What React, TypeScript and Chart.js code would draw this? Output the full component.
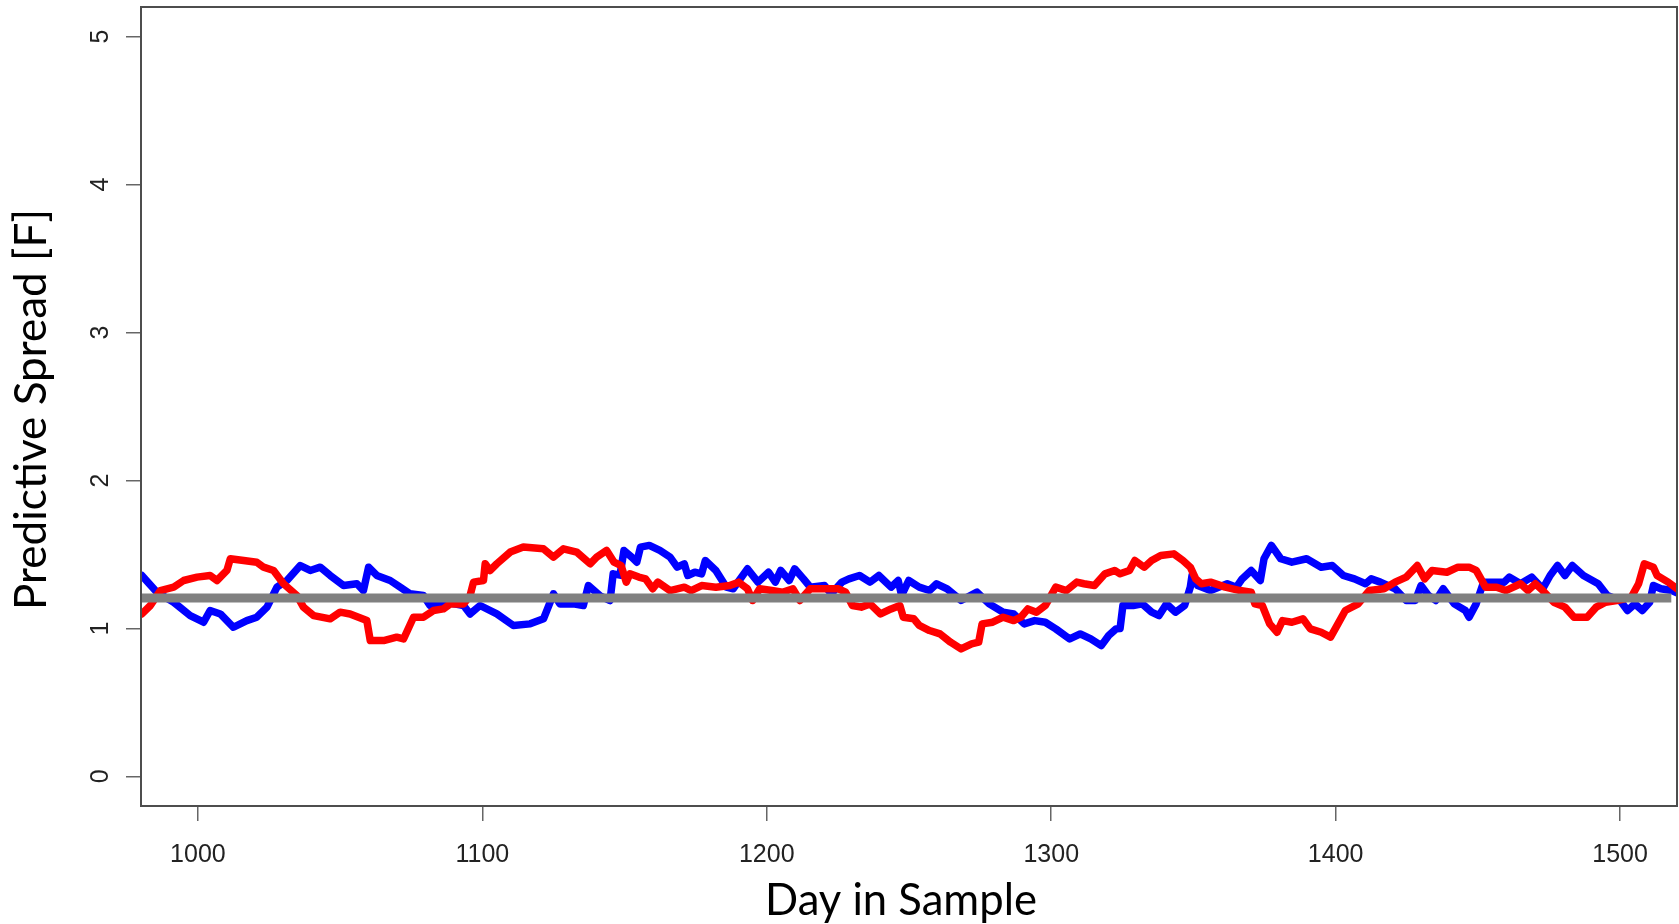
import React, { useEffect, useRef } from "react";
import { Chart, registerables } from "chart.js";

Chart.register(...registerables);

const blueDays = [
  980.3, 985.6, 991.5, 997.3, 1002.0, 1004.3, 1007.9, 1012.5, 1017.2, 1020.7, 1024.3, 1027.8,
  1031.3, 1036.0, 1039.5, 1043.0, 1046.5, 1051.2, 1055.9, 1058.2, 1060.0, 1062.9, 1067.6, 1071.1,
  1074.6, 1079.3, 1081.6, 1087.5, 1093.4, 1095.7, 1099.2, 1105.1, 1110.9, 1116.8, 1121.5, 1125.0,
  1127.3, 1132.0, 1135.5, 1137.3, 1141.4, 1144.9, 1146.0, 1148.4, 1149.8, 1152.5, 1154.3, 1155.6,
  1158.7, 1162.4, 1166.0, 1168.5, 1171.0, 1172.2, 1174.7, 1177.1, 1178.4, 1182.1, 1185.8, 1188.2,
  1193.2, 1196.9, 1200.6, 1203.0, 1204.9, 1207.9, 1209.8, 1212.9, 1215.3, 1220.3, 1222.7, 1226.4,
  1228.9, 1232.6, 1236.3, 1239.4, 1243.7, 1246.2, 1247.4, 1249.9, 1253.6, 1257.2, 1259.7, 1263.4,
  1268.3, 1273.9, 1278.2, 1283.1, 1286.8, 1290.5, 1294.2, 1297.9, 1301.6, 1306.5, 1310.2, 1313.9,
  1317.6, 1320.2, 1322.8, 1324.2, 1325.2, 1328.8, 1332.0, 1335.3, 1337.9, 1340.5, 1343.7, 1346.9,
  1348.9, 1349.5, 1351.5, 1356.0, 1361.9, 1365.1, 1367.1, 1370.3, 1373.5, 1374.8, 1377.4, 1380.7,
  1384.6, 1389.8, 1394.9, 1398.8, 1402.7, 1406.6, 1410.5, 1412.5, 1415.7, 1420.9, 1424.8, 1428.0,
  1430.0, 1432.6, 1435.2, 1437.8, 1441.7, 1445.6, 1446.9, 1449.4, 1452.0, 1455.9, 1459.2, 1461.1,
  1465.0, 1468.9, 1472.8, 1475.4, 1478.0, 1480.6, 1483.2, 1487.1, 1492.3, 1495.5, 1500.0, 1502.6,
  1505.2, 1507.8, 1510.4, 1511.7, 1514.3, 1518.2, 1520.0,
];
const blueValues = [
  1.358, 1.245, 1.177, 1.087, 1.042, 1.121, 1.098, 1.008, 1.053, 1.076, 1.144, 1.279,
  1.324, 1.425, 1.392, 1.414, 1.358, 1.29, 1.302, 1.256, 1.414, 1.358, 1.324, 1.279,
  1.234, 1.223, 1.155, 1.177, 1.155, 1.098, 1.155, 1.098, 1.02, 1.031, 1.065, 1.234,
  1.166, 1.166, 1.155, 1.29, 1.22, 1.189, 1.369, 1.36, 1.527, 1.482, 1.448, 1.55,
  1.561, 1.527, 1.482, 1.414, 1.437, 1.358, 1.38, 1.369, 1.459, 1.392, 1.279, 1.268,
  1.403, 1.313, 1.38, 1.313, 1.392, 1.324, 1.403, 1.335, 1.279, 1.29, 1.234, 1.313,
  1.335, 1.358, 1.313, 1.358, 1.279, 1.324, 1.223, 1.324, 1.279, 1.256, 1.302, 1.268,
  1.189, 1.245, 1.166, 1.11, 1.098, 1.031, 1.053, 1.042, 0.997, 0.929, 0.963, 0.929,
  0.884, 0.952, 0.997, 1.0, 1.155, 1.155, 1.166, 1.11, 1.087, 1.166, 1.11, 1.155,
  1.279, 1.358, 1.29, 1.256, 1.302, 1.279, 1.335, 1.392, 1.324, 1.471, 1.561, 1.471,
  1.448, 1.471, 1.414, 1.425, 1.358, 1.335, 1.302, 1.335, 1.313, 1.268, 1.189, 1.189,
  1.29, 1.223, 1.189, 1.268, 1.166, 1.121, 1.076, 1.166, 1.313, 1.313, 1.313, 1.347,
  1.302, 1.347, 1.268, 1.358, 1.425, 1.358, 1.425, 1.358, 1.302, 1.223, 1.189, 1.121,
  1.166, 1.121, 1.177, 1.29, 1.268, 1.256, 1.24,
];

const redDays = [
  980.3, 983.3, 986.8, 991.5, 995.0, 999.7, 1004.3, 1006.7, 1010.2, 1011.4, 1016.1, 1020.7,
  1023.1, 1026.6, 1030.1, 1034.8, 1037.1, 1040.7, 1046.5, 1050.0, 1053.5, 1059.4, 1060.6, 1065.3,
  1069.9, 1072.3, 1075.8, 1079.3, 1082.8, 1086.3, 1088.7, 1093.4, 1095.7, 1096.9, 1100.4, 1101.0,
  1102.7, 1105.1, 1109.8, 1114.4, 1121.5, 1125.0, 1128.5, 1133.2, 1137.9, 1140.2, 1143.7, 1146.3,
  1148.8, 1150.6, 1151.9, 1155.0, 1157.4, 1159.9, 1161.7, 1166.0, 1171.0, 1173.4, 1177.1, 1182.1,
  1187.0, 1190.1, 1193.2, 1195.0, 1197.5, 1201.8, 1205.5, 1209.2, 1211.6, 1215.3, 1219.0, 1225.2,
  1227.7, 1230.1, 1233.2, 1236.3, 1240.0, 1243.7, 1246.8, 1248.0, 1251.7, 1253.6, 1257.2, 1260.9,
  1264.6, 1268.3, 1272.0, 1274.5, 1275.7, 1279.4, 1283.1, 1286.8, 1289.3, 1291.8, 1294.8, 1297.9,
  1301.6, 1305.3, 1309.0, 1311.5, 1315.2, 1318.9, 1322.3, 1324.2, 1327.5, 1329.4, 1332.7, 1335.3,
  1338.5, 1343.1, 1346.3, 1348.9, 1350.8, 1352.8, 1356.0, 1361.2, 1366.4, 1370.3, 1371.6, 1374.2,
  1376.8, 1379.4, 1381.3, 1384.6, 1388.5, 1391.1, 1394.9, 1398.2, 1400.8, 1403.4, 1407.9, 1411.8,
  1417.0, 1420.9, 1424.8, 1428.7, 1431.3, 1433.9, 1439.1, 1443.0, 1446.9, 1449.4, 1452.7, 1456.6,
  1459.8, 1465.0, 1467.6, 1470.2, 1472.8, 1476.7, 1480.6, 1483.8, 1488.4, 1491.6, 1494.9, 1498.8,
  1503.9, 1506.5, 1508.5, 1511.7, 1513.0, 1516.9, 1520.0,
];
const redValues = [
  1.098, 1.155, 1.256, 1.279, 1.324, 1.347, 1.358, 1.324, 1.392, 1.471, 1.459, 1.448,
  1.414, 1.392, 1.302, 1.223, 1.144, 1.087, 1.065, 1.11, 1.098, 1.053, 0.918, 0.918,
  0.941, 0.929, 1.076, 1.076, 1.121, 1.132, 1.166, 1.166, 1.223, 1.313, 1.324, 1.437,
  1.392, 1.437, 1.516, 1.55, 1.538, 1.482, 1.538, 1.516, 1.437, 1.482, 1.527, 1.448,
  1.425, 1.313, 1.369, 1.347, 1.335, 1.268, 1.313, 1.256, 1.279, 1.256, 1.29, 1.279,
  1.29, 1.313, 1.268, 1.189, 1.268, 1.256, 1.245, 1.268, 1.189, 1.268, 1.268, 1.268,
  1.245, 1.155, 1.144, 1.166, 1.098, 1.132, 1.155, 1.076, 1.065, 1.02, 0.986, 0.963,
  0.907, 0.862, 0.896, 0.907, 1.031, 1.042, 1.076, 1.053, 1.076, 1.132, 1.11, 1.155,
  1.279, 1.256, 1.313, 1.302, 1.29, 1.369, 1.392, 1.369, 1.392, 1.459, 1.414, 1.459,
  1.493, 1.504, 1.459, 1.414, 1.335, 1.302, 1.313, 1.279, 1.256, 1.245, 1.166, 1.155,
  1.031, 0.974, 1.053, 1.042, 1.065, 0.997, 0.974, 0.941, 1.031, 1.121, 1.166, 1.256,
  1.268, 1.313, 1.347, 1.425, 1.335, 1.392, 1.38, 1.414, 1.414, 1.392, 1.279, 1.279,
  1.256, 1.302, 1.256, 1.302, 1.256, 1.177, 1.144, 1.076, 1.076, 1.144, 1.177, 1.189,
  1.211, 1.302, 1.437, 1.414, 1.358, 1.313, 1.268,
];

const meanDays = [980, 1518];
const meanValues = [1.206, 1.206];

const xTickValues = [1000, 1100, 1200, 1300, 1400, 1500];
const yTickValues = [0, 1, 2, 3, 4, 5];
const xTitle = "Day in Sample";
const yTitle = "Predictive Spread [F]";

const toPoints = (xs: number[], ys: number[]) => xs.map((x, i) => ({ x, y: ys[i] }));

const decorPlugin = {
  id: "decor",
  afterDatasetsDraw(chart: any) {
    const { ctx, chartArea, scales } = chart;
    ctx.save();
    ctx.strokeStyle = "#4d4d4d";
    ctx.lineWidth = 2;
    ctx.strokeRect(chartArea.left, chartArea.top, chartArea.right - chartArea.left, chartArea.bottom - chartArea.top);
    ctx.fillStyle = "#222";
    ctx.font = "25px 'Liberation Sans'";
    ctx.textAlign = "center";
    ctx.textBaseline = "alphabetic";
    for (const v of yTickValues) {
      const py = scales.y.getPixelForValue(v);
      ctx.save();
      ctx.translate(108, py);
      ctx.rotate(-Math.PI / 2);
      ctx.fillText(String(v), 0, 0);
      ctx.restore();
    }
    ctx.fillStyle = "#000";
    ctx.font = "42px Lato";
    let w = ctx.measureText(xTitle).width;
    let size = 42 * (272 / w);
    ctx.font = `${size}px Lato`;
    ctx.fillText(xTitle, 901, 915);
    ctx.font = "42px Lato";
    w = ctx.measureText(yTitle).width;
    size = 42 * (401 / w);
    ctx.font = `${size}px Lato`;
    ctx.save();
    ctx.translate(46, 409.5);
    ctx.rotate(-Math.PI / 2);
    ctx.fillText(yTitle, 0, 0);
    ctx.restore();
    ctx.restore();
  },
};

export default function App() {
  const canvasRef = useRef<HTMLCanvasElement | null>(null);

  useEffect(() => {
    if (!canvasRef.current) return;
    const chart = new Chart(canvasRef.current, {
      type: "line",
      data: {
        datasets: [
          {
            data: toPoints(meanDays, meanValues),
            borderColor: "#808080",
            borderWidth: 9,
            borderCapStyle: "butt",
            pointRadius: 0,
            clip: 0,
          },
          {
            data: toPoints(redDays, redValues),
            borderColor: "#ff0000",
            borderWidth: 7.5,
            borderCapStyle: "round",
            borderJoinStyle: "round",
            pointRadius: 0,
            clip: 0,
          },
          {
            data: toPoints(blueDays, blueValues),
            borderColor: "#0000ff",
            borderWidth: 7.5,
            borderCapStyle: "round",
            borderJoinStyle: "round",
            pointRadius: 0,
            clip: 0,
          },
        ],
      },
      options: {
        animation: false,
        responsive: false,
        events: [],
        layout: { padding: { top: 7, right: 2, left: 0, bottom: 0 } },
        plugins: { legend: { display: false }, tooltip: { enabled: false } },
        elements: { point: { radius: 0 }, line: { tension: 0 } },
        scales: {
          x: {
            type: "linear",
            min: 980,
            max: 1520,
            afterBuildTicks: (s: any) => {
              s.ticks = xTickValues.map((v) => ({ value: v }));
            },
            afterFit: (s: any) => {
              s.height = 118;
            },
            border: { display: false },
            grid: { drawOnChartArea: false, drawTicks: true, tickLength: 15, color: "#666", lineWidth: 1.5 },
            ticks: {
              autoSkip: false,
              maxRotation: 0,
              padding: 19,
              color: "#222",
              font: { family: "'Liberation Sans'", size: 25 },
              callback: (v: any) => String(v),
            },
          },
          y: {
            type: "linear",
            min: -0.2,
            max: 5.2,
            afterBuildTicks: (s: any) => {
              s.ticks = yTickValues.map((v) => ({ value: v }));
            },
            afterFit: (s: any) => {
              s.width = 141;
            },
            border: { display: false },
            grid: { drawOnChartArea: false, drawTicks: true, tickLength: 15, color: "#666", lineWidth: 1.5 },
            ticks: { display: false },
          },
        },
      },
      plugins: [decorPlugin],
    });
    return () => chart.destroy();
  }, []);

  return (
    <div style={{ position: "absolute", left: 0, top: 0, width: 1679, height: 924, background: "#fff" }}>
      <canvas ref={canvasRef} width={1679} height={924} style={{ display: "block" }} />
    </div>
  );
}
